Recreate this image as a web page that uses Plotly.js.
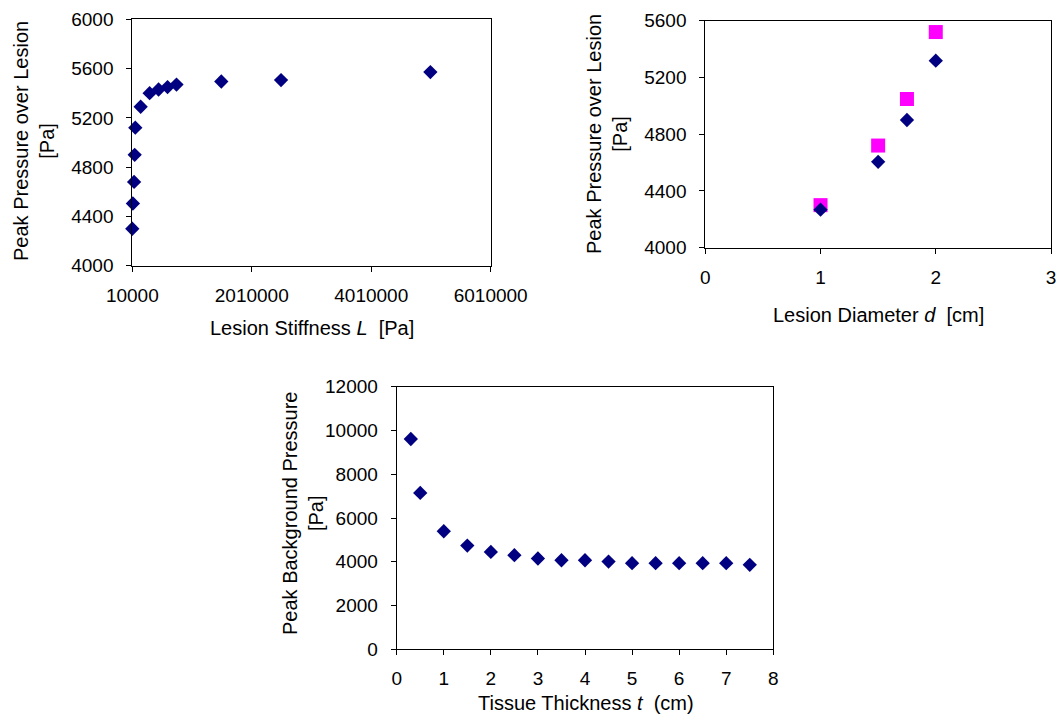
<!DOCTYPE html>
<html>
<head>
<meta charset="utf-8">
<script src="https://cdn.plot.ly/plotly-3.0.1.min.js"></script>
<style>html,body{margin:0;padding:0;background:#fff;}#chart{width:1059px;height:716px;}</style>
</head>
<body>
<div id="chart"></div>
<script>
// Panel A: peak pressure over lesion vs lesion stiffness
const stiffness = [10000, 20000, 40000, 50000, 60000, 150000, 300000, 450000, 600000, 750000, 1500000, 2500000, 5000000];
const pressureVsStiffness = [4300, 4505, 4680, 4900, 5120, 5290, 5400, 5430, 5450, 5470, 5495, 5507, 5572];

// Panel B: peak pressure over lesion vs lesion diameter (two series)
const diameter = [1, 1.5, 1.75, 2];
const pressureVsDiameterA = [4268, 4605, 4900, 5318];
const pressureVsDiameterB = [4300, 4720, 5048, 5520];

// Panel C: peak background pressure vs tissue thickness
const thickness = [0.3, 0.5, 1, 1.5, 2, 2.5, 3, 3.5, 4, 4.5, 5, 5.5, 6, 6.5, 7, 7.5];
const backgroundPressure = [9610, 7145, 5395, 4740, 4450, 4300, 4150, 4070, 4070, 4010, 3935, 3935, 3935, 3935, 3935, 3860];

const navy = '#000080';
const magenta = '#FF00FF';
const fontFam = '"Liberation Sans", Arial, sans-serif';

const traces = [
  {x: stiffness, y: pressureVsStiffness, mode: 'markers', type: 'scatter', xaxis: 'x', yaxis: 'y',
   marker: {symbol: 'diamond', size: 11, color: navy}, cliponaxis: false},
  {x: diameter, y: pressureVsDiameterB, mode: 'markers', type: 'scatter', xaxis: 'x2', yaxis: 'y2',
   marker: {symbol: 'square', size: 14, color: magenta}, cliponaxis: false},
  {x: diameter, y: pressureVsDiameterA, mode: 'markers', type: 'scatter', xaxis: 'x2', yaxis: 'y2',
   marker: {symbol: 'diamond', size: 11, color: navy}, cliponaxis: false},
  {x: thickness, y: backgroundPressure, mode: 'markers', type: 'scatter', xaxis: 'x3', yaxis: 'y3',
   marker: {symbol: 'diamond', size: 11, color: navy}, cliponaxis: false}
];

function ax(extra) {
  return Object.assign({
    showgrid: false, zeroline: false, showline: true, linecolor: '#000', linewidth: 1,
    mirror: true, ticks: 'outside', ticklen: 5, tickcolor: '#000', tickwidth: 1,
    tickfont: {family: fontFam, size: 19, color: '#000'}, fixedrange: true,
    ticklabelstandoff: 7, automargin: false
  }, extra);
}

const W = 1059, H = 716;
const px = v => v / W;
const py = v => 1 - v / H;

const layout = {
  width: W, height: H,
  margin: {l: 0, r: 0, t: 0, b: 0},
  paper_bgcolor: '#fff', plot_bgcolor: '#fff',
  showlegend: false,
  font: {family: fontFam, size: 20, color: '#000'},
  xaxis: ax({domain: [px(132.3), px(490.7)], range: [10000, 6010000], tick0: 10000, dtick: 2000000, anchor: 'y', tickformat: 'd'}),
  yaxis: ax({domain: [py(265.7), py(19.3)], range: [4000, 6000], dtick: 400, anchor: 'x', ticklabelstandoff: 9}),
  xaxis2: ax({domain: [px(705.3), px(1051)], range: [0, 3], dtick: 1, anchor: 'y2'}),
  yaxis2: ax({domain: [py(247.7), py(20.7)], range: [4000, 5600], dtick: 400, anchor: 'x2', ticklabelstandoff: 9}),
  xaxis3: ax({domain: [px(396.7), px(773.3)], range: [0, 8], dtick: 1, anchor: 'y3'}),
  yaxis3: ax({domain: [py(649.3), py(386.7)], range: [0, 12000], dtick: 2000, anchor: 'x3', tickformat: 'd', ticklabelstandoff: 9}),
  annotations: [
    {text: 'Lesion Stiffness <i>L</i>\u00A0 [Pa]', x: px(311.7), y: py(328), xref: 'paper', yref: 'paper', xanchor: 'center', yanchor: 'middle', showarrow: false, font: {size: 20}},
    {text: 'Peak Pressure over Lesion<br>[Pa]', x: px(34), y: py(141), xref: 'paper', yref: 'paper', xanchor: 'center', yanchor: 'middle', textangle: -90, showarrow: false, font: {size: 20}},
    {text: 'Lesion Diameter <i>d</i>\u00A0 [cm]', x: px(878), y: py(315), xref: 'paper', yref: 'paper', xanchor: 'center', yanchor: 'middle', showarrow: false, font: {size: 20}},
    {text: 'Peak Pressure over Lesion<br>[Pa]', x: px(607), y: py(134), xref: 'paper', yref: 'paper', xanchor: 'center', yanchor: 'middle', textangle: -90, showarrow: false, font: {size: 20}},
    {text: 'Tissue Thickness <i>t</i>\u00A0 (cm)', x: px(585.8), y: py(703), xref: 'paper', yref: 'paper', xanchor: 'center', yanchor: 'middle', showarrow: false, font: {size: 20}},
    {text: 'Peak Background Pressure<br>[Pa]', x: px(303), y: py(514), xref: 'paper', yref: 'paper', xanchor: 'center', yanchor: 'middle', textangle: -90, showarrow: false, font: {size: 20}}
  ]
};

Plotly.newPlot('chart', traces, layout, {displayModeBar: false, staticPlot: true});
</script>
</body>
</html>
